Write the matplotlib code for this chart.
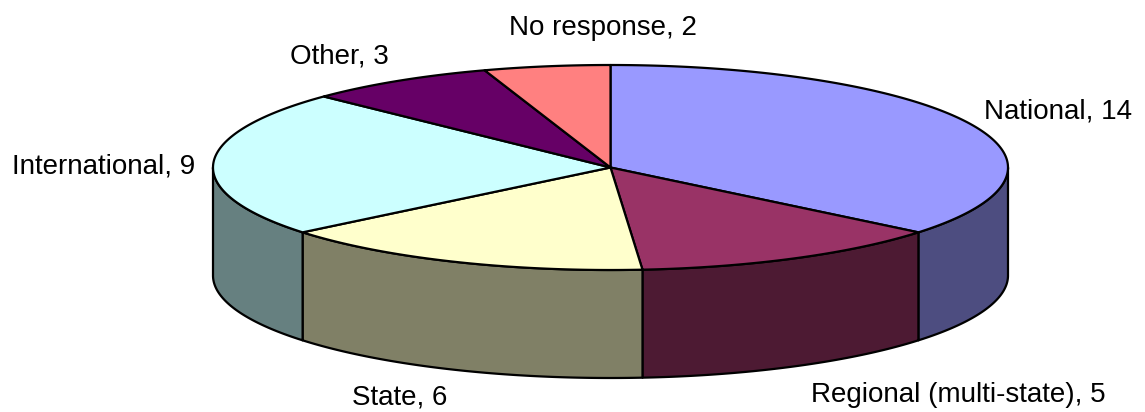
import numpy as np
import matplotlib
matplotlib.use("Agg")
import matplotlib.pyplot as plt
from matplotlib.patches import Polygon
from matplotlib.colors import to_rgb

# Survey responses by scope
categories = ["National", "Regional (multi-state)", "State", "International", "Other", "No response"]
counts = [14, 5, 6, 9, 3, 2]
top_colors = ["#9999FF", "#993366", "#FFFFCC", "#CCFFFF", "#660066", "#FF8080"]

# Label anchor points (pixel space, baseline-centred)
label_pos = [(1058, 118), (958, 402), (400, 405), (104, 173), (339, 63), (603, 35)]

W, H = 1145, 412
fig = plt.figure(figsize=(W / 100, H / 100), dpi=100)
ax = fig.add_axes([0, 0, 1, 1])
ax.set_xlim(0, W)
ax.set_ylim(H, 0)
ax.axis("off")

# Ellipse geometry of the tilted pie (pixel units)
cx, cy, rx, ry, depth = 610.5, 167.5, 397.5, 102.5, 108.0


def rim(theta_deg, dy=0.0):
    t = np.radians(theta_deg)
    return cx + rx * np.sin(t), cy - ry * np.cos(t) + dy


total = float(sum(counts))
bounds = np.concatenate([[0.0], np.cumsum(counts) / total * 360.0])

edge_kw = dict(edgecolor="black", linewidth=1.6, joinstyle="round")

# Front side walls (visible between 90 and 270 degrees clockwise from top)
for i, col in enumerate(top_colors):
    a, b = bounds[i], bounds[i + 1]
    lo, hi = max(a, 90.0), min(b, 270.0)
    if lo >= hi:
        continue
    th = np.linspace(lo, hi, 200)
    xt, yt = rim(th)
    xb, yb = rim(th, depth)
    pts = np.column_stack([np.concatenate([xt, xb[::-1]]),
                           np.concatenate([yt, yb[::-1]])])
    side = tuple(0.5 * c for c in to_rgb(col))
    ax.add_patch(Polygon(pts, closed=True, facecolor=side, zorder=1, **edge_kw))

# Top faces
for i, col in enumerate(top_colors):
    a, b = bounds[i], bounds[i + 1]
    th = np.linspace(a, b, 300)
    xt, yt = rim(th)
    pts = np.column_stack([np.concatenate([[cx], xt]), np.concatenate([[cy], yt])])
    ax.add_patch(Polygon(pts, closed=True, facecolor=col, zorder=2, **edge_kw))

# Category labels
for name, val, (lx, ly) in zip(categories, counts, label_pos):
    ax.text(lx, ly, f"{name}, {val}", ha="center", va="baseline",
            fontsize=20, family="Liberation Sans", color="black", zorder=3)

fig.savefig("out.png", dpi=100, facecolor="white")
